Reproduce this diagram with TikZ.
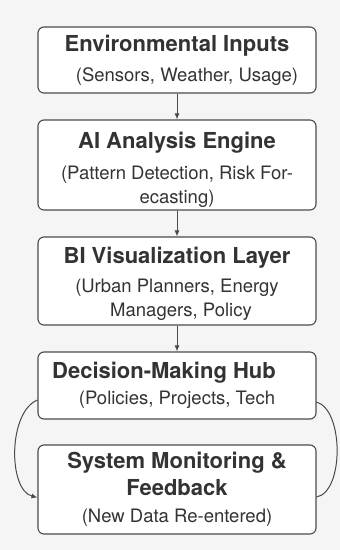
\documentclass[tikz,border=0pt]{standalone}
\usepackage{fontspec}
\setmainfont{TeX Gyre Heros}
\usetikzlibrary{arrows.meta}
\definecolor{boxline}{HTML}{4A4A4A}
\definecolor{inktext}{HTML}{333333}
\definecolor{paper}{HTML}{F5F5F5}
\newcommand{\boxtitle}[1]{{\fontsize{22}{24}\selectfont\bfseries #1}}
\begin{document}
\begin{tikzpicture}[x=1pt,y=-1pt]

    \tikzset{
      stage/.style={
        draw=boxline,
        line width=1.1pt,
        rounded corners=6pt,
        fill=white,
        text=inktext,
        align=center,
        font=\fontsize{18.5}{24}\selectfont,
        inner sep=0pt,
        minimum width=278pt,
      },
      flow/.style={
        draw=boxline,
        line width=1pt,
        -{Latex[length=6pt,width=5pt]},
      },
    }
    \fill[paper] (0,0) rectangle (340,550);
    \useasboundingbox (0,0) rectangle (340,550);

	\node[stage, minimum height=66pt] (inputs) at (177,60)
	  {\boxtitle{Environmental Inputs}\\[6pt]\hspace*{20pt}(Sensors, Weather, Usage)};
	\node[stage, minimum height=90pt] (engine) at (177,165)
	  {\rule{0pt}{26pt}\boxtitle{AI Analysis Engine}\\[7pt](Pattern Detection, Risk For-\\ecasting)};
	\node[stage, minimum height=88pt] (layer) at (177,281)
	  {\rule{0pt}{23pt}\boxtitle{BI Visualization Layer}\\[5pt](Urban Planners, Energy\\\hspace*{8pt}Managers, Policy};
	\node[stage, minimum height=67pt] (hub) at (177,385.5)
	  {\boxtitle{Decision-Making Hub}\hspace*{26pt}\\[2pt]\hspace*{0pt}(Policies, Projects, Tech};
	\node[stage, minimum height=89pt] (monitor) at (177,489.5)
	  {\boxtitle{System Monitoring \&}\\[3pt]\boxtitle{Feedback}\\[3pt](New Data Re-entered)};

	\draw[flow] (inputs) -- (engine);
	\draw[flow] (engine) -- (layer);
	\draw[flow] (layer) -- (hub);
	\draw[flow] ([yshift=-14.5pt]hub.west) .. controls (8,412) and (8,490) .. ([yshift=-8pt]monitor.west);
	\draw[draw=boxline, line width=1pt] ([yshift=-16.5pt]hub.east) .. controls (344,410) and (344,492) .. ([yshift=-7.5pt]monitor.east);

\end{tikzpicture}
\end{document}
